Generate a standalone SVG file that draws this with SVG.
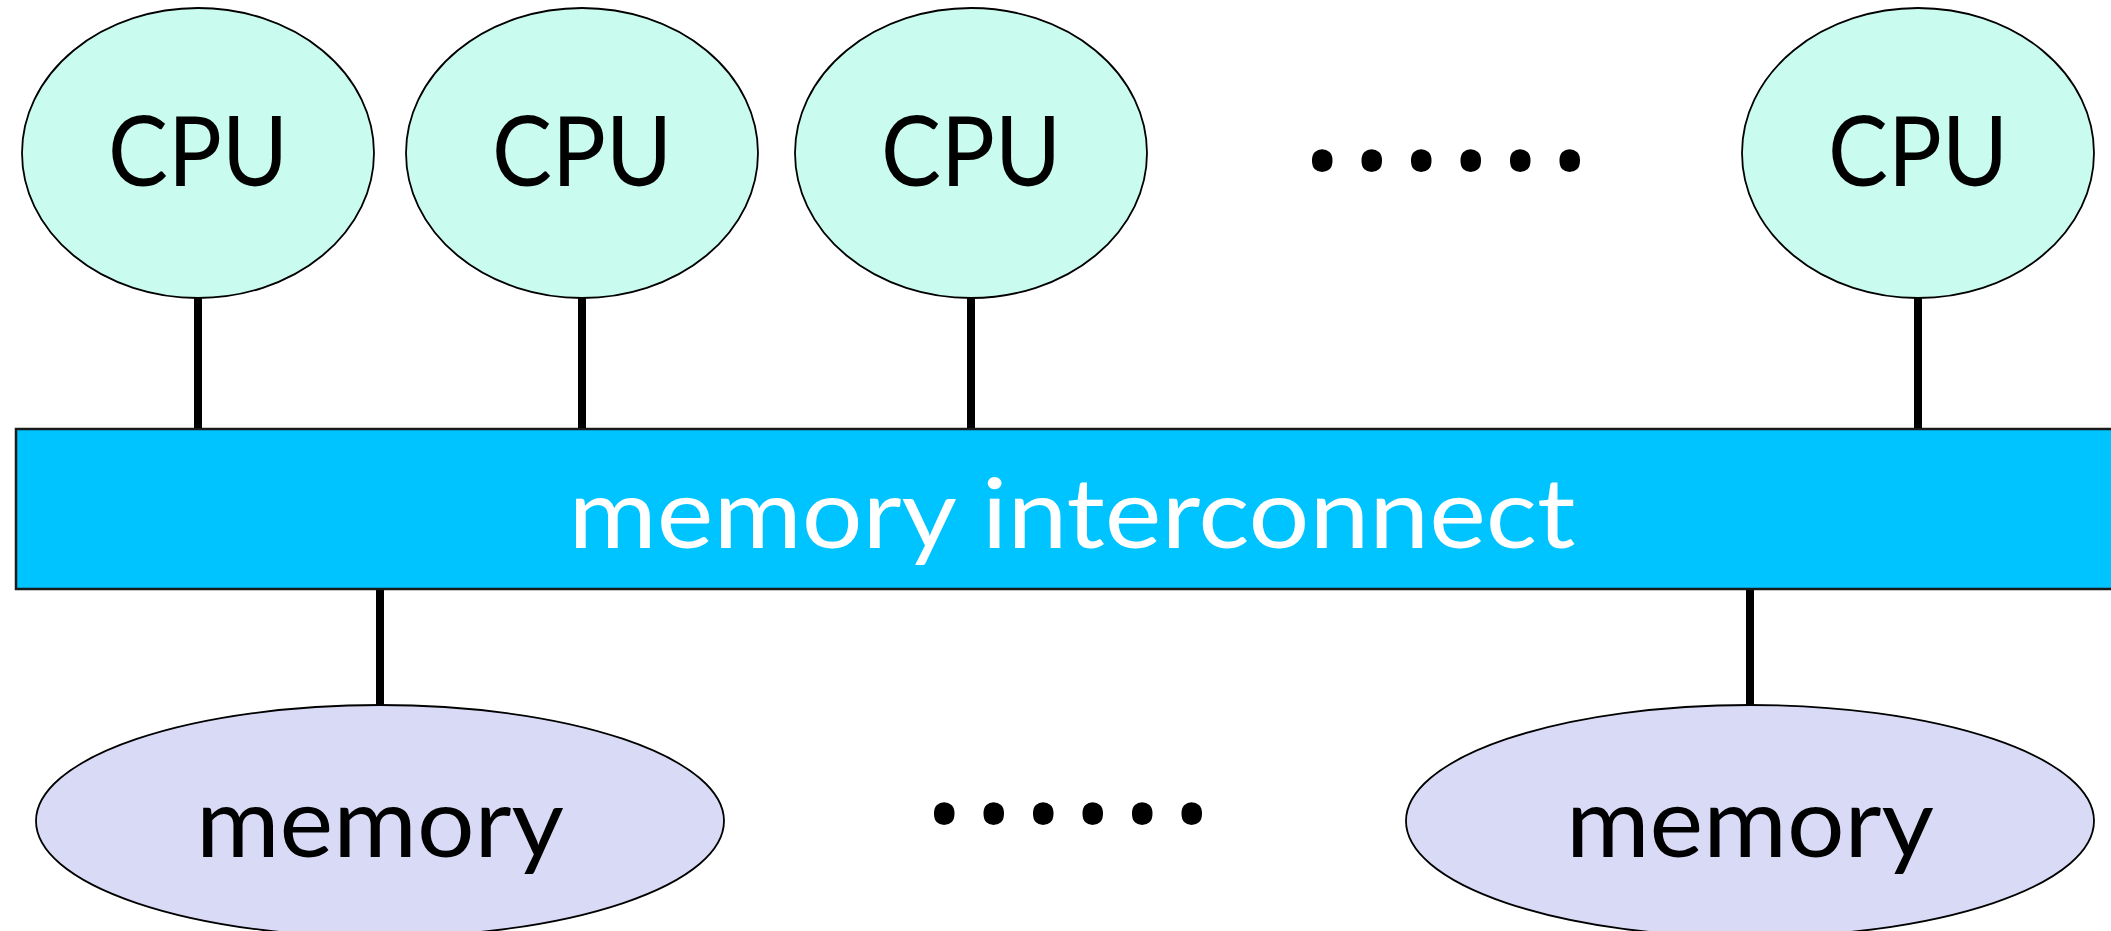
<svg xmlns="http://www.w3.org/2000/svg" width="2111" height="931" viewBox="0 0 2111 931">
<style>
.cpu{fill:#C9FBEE;stroke:#000;stroke-width:1.8}
.mem{fill:#D9DAF5;stroke:#000;stroke-width:1.8}
.bus{fill:#00C4FF;stroke:#1a1a1a;stroke-width:2.5}
.lbl{font-family:Lato,"Open Sans",sans-serif;font-size:97px;text-anchor:middle;fill:#000}
.dots{font-family:"Open Sans",sans-serif;font-size:177px;letter-spacing:3px;fill:#000}
.conn line{stroke:#000;stroke-width:8}
</style>
<rect width="2111" height="931" fill="#fff"/>
<g class="conn">
<line x1="198" y1="298" x2="198" y2="430"/>
<line x1="582" y1="298" x2="582" y2="430"/>
<line x1="971" y1="298" x2="971" y2="430"/>
<line x1="1918" y1="298" x2="1918" y2="430"/>
<line x1="380" y1="588" x2="380" y2="706"/>
<line x1="1750" y1="588" x2="1750" y2="706"/>
</g>
<g id="cpu1"><ellipse class="cpu" cx="198" cy="153" rx="176" ry="145"/><text class="lbl" x="198" y="186" textLength="180" lengthAdjust="spacingAndGlyphs">CPU</text></g>
<g id="cpu2"><ellipse class="cpu" cx="582" cy="153" rx="176" ry="145"/><text class="lbl" x="582" y="186" textLength="180" lengthAdjust="spacingAndGlyphs">CPU</text></g>
<g id="cpu3"><ellipse class="cpu" cx="971" cy="153" rx="176" ry="145"/><text class="lbl" x="971" y="186" textLength="180" lengthAdjust="spacingAndGlyphs">CPU</text></g>
<g id="cpu4"><ellipse class="cpu" cx="1918" cy="153" rx="176" ry="145"/><text class="lbl" x="1918" y="186" textLength="180" lengthAdjust="spacingAndGlyphs">CPU</text></g>
<g id="dots-top"><text class="dots" x="1299" y="223">······</text></g>
<g id="bus"><rect class="bus" x="16" y="429" width="2110" height="160"/><text class="lbl" x="1072" y="548" style="fill:#fff" textLength="1007" lengthAdjust="spacingAndGlyphs">memory interconnect</text></g>
<g id="mem1"><ellipse class="mem" cx="380" cy="821" rx="344" ry="116"/><text class="lbl" x="380" y="857" textLength="368" lengthAdjust="spacingAndGlyphs">memory</text></g>
<g id="dots-bottom"><text class="dots" x="921" y="876">······</text></g>
<g id="mem2"><ellipse class="mem" cx="1750" cy="821" rx="344" ry="116"/><text class="lbl" x="1750" y="857" textLength="368" lengthAdjust="spacingAndGlyphs">memory</text></g>
</svg>
